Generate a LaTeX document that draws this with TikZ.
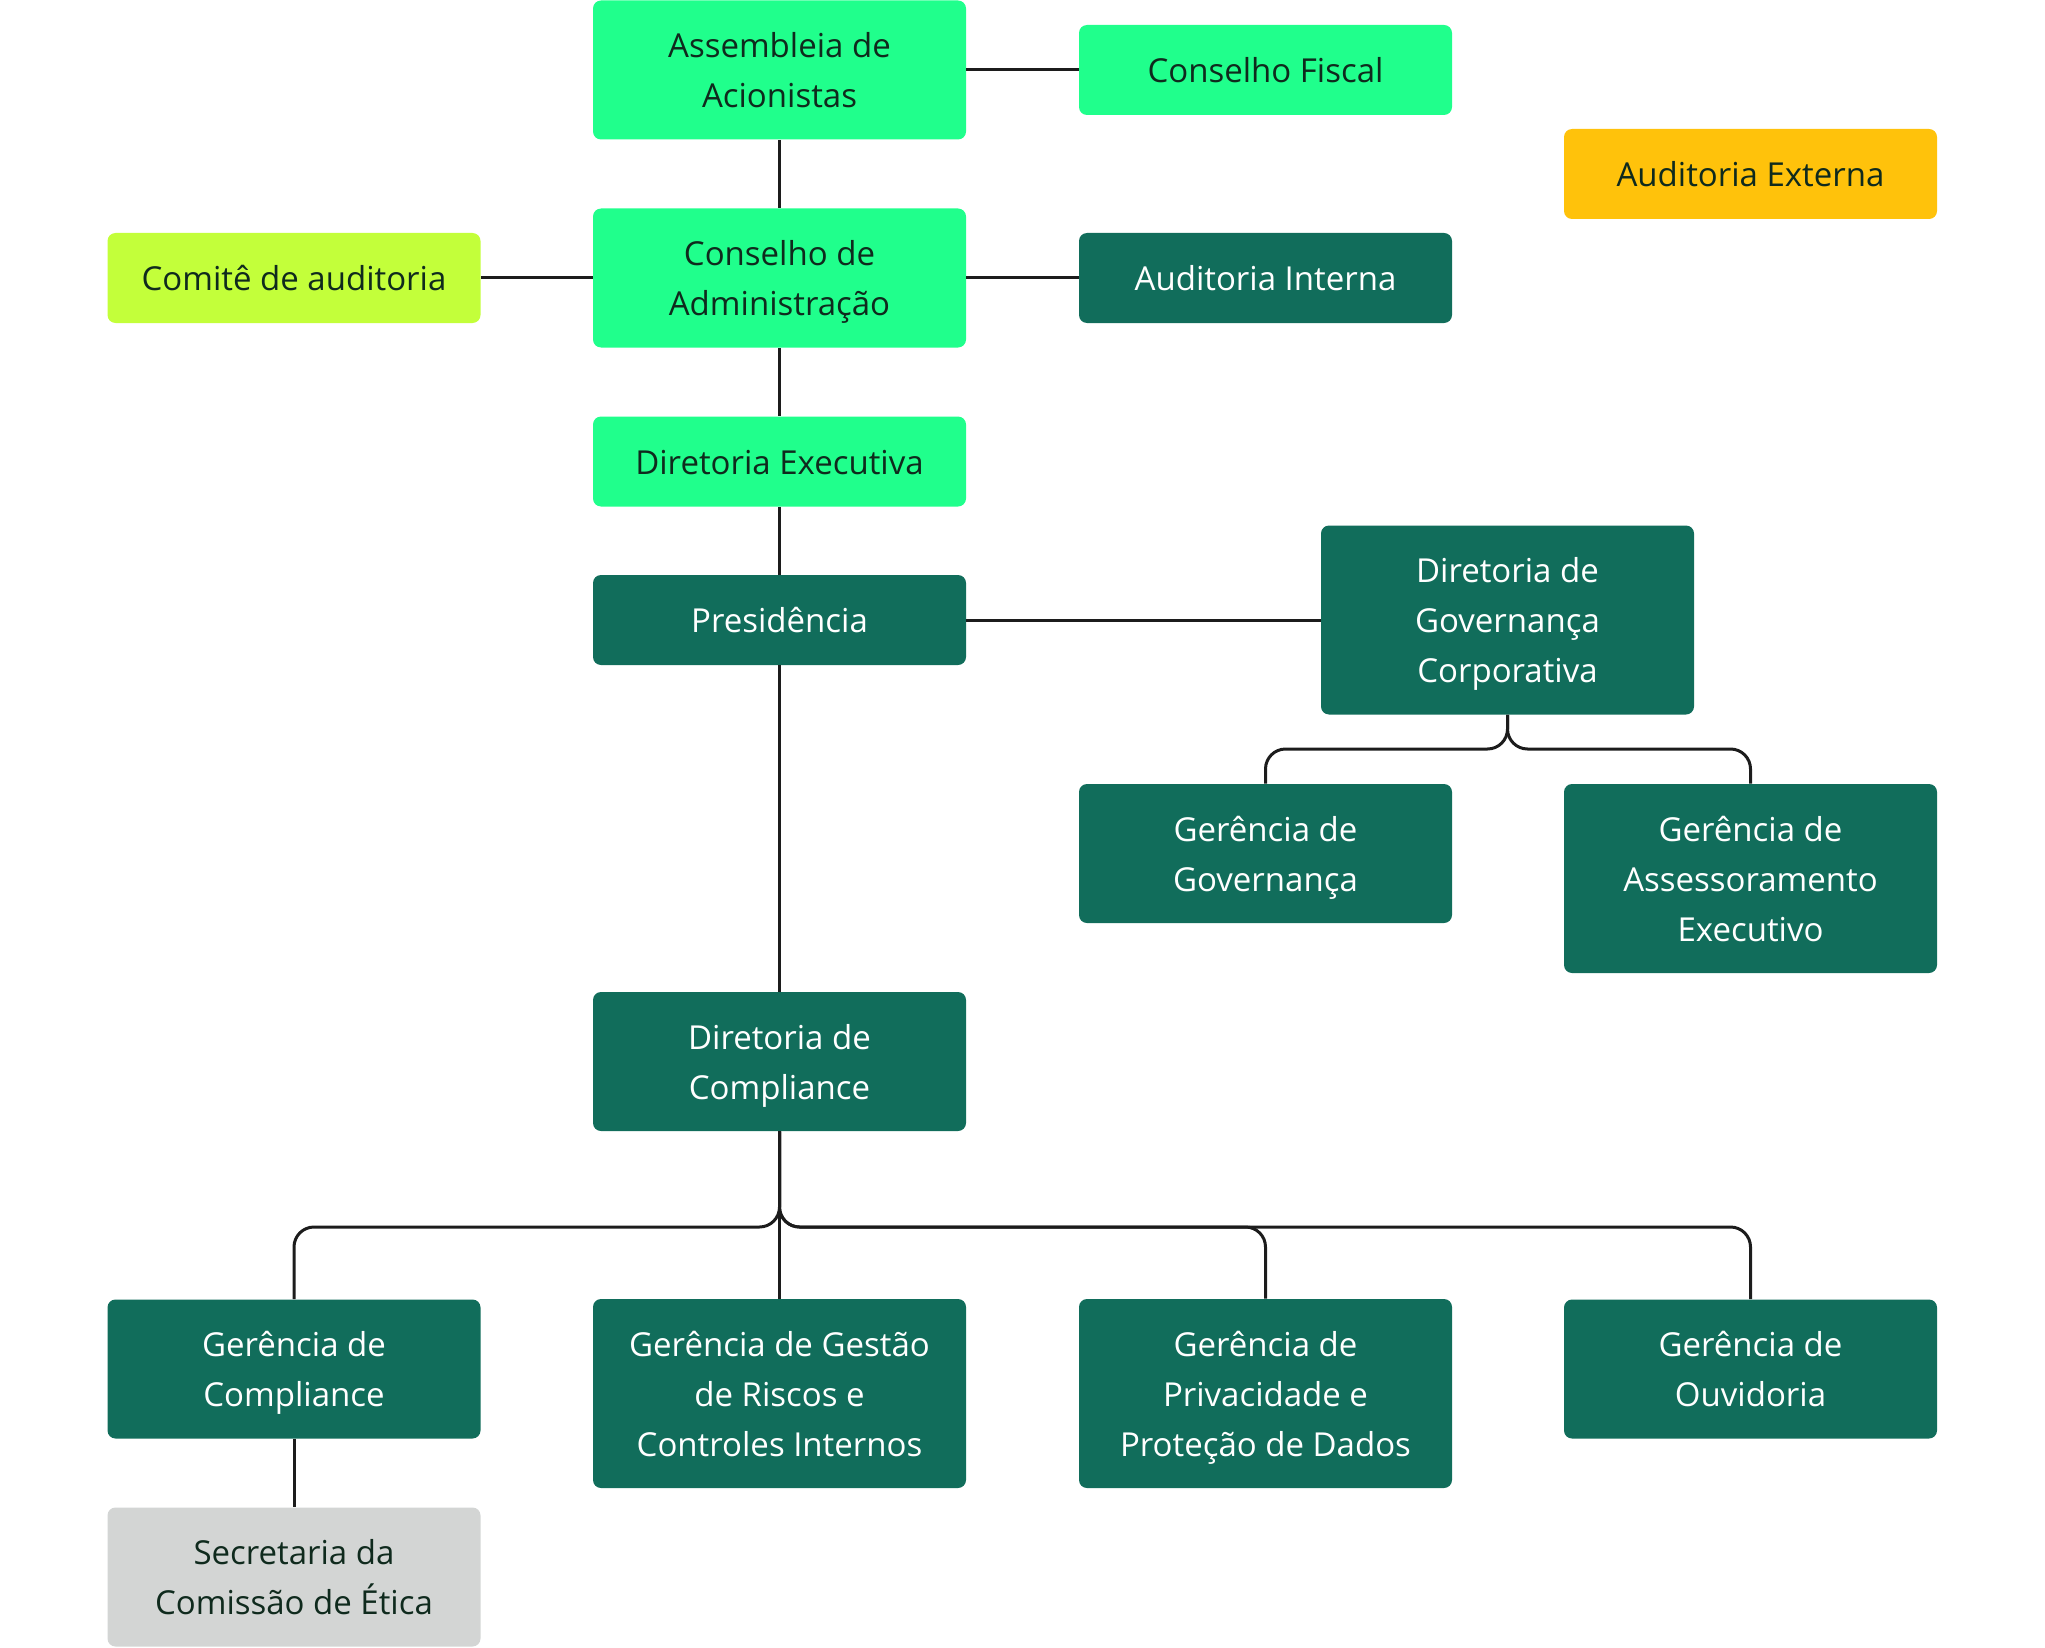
\documentclass[tikz,border=0pt]{standalone}
\usepackage{fontspec}
\setmainfont{Open Sans}
\definecolor{bgreen}{HTML}{20FF8C}
\definecolor{dgreen}{HTML}{116D5B}
\definecolor{lime}{HTML}{C3FF3A}
\definecolor{amber}{HTML}{FFC20B}
\definecolor{lgrey}{HTML}{D3D5D4}
\definecolor{dtext}{HTML}{0F2A1D}
\definecolor{linec}{HTML}{1C1C1C}
\newcommand\ts{\rule{0pt}{18.9pt}}
\newcommand\mybotstrut{\rule[-6.1pt]{0pt}{6.1pt}}
\tikzset{
  box/.style={rounded corners=4pt, minimum width=186.5pt, align=center, inner sep=0pt,
    font=\fontsize{16.5pt}{25pt}\selectfont,
    execute at end node=\mybotstrut},
  hone/.style={minimum height=45pt},
  htwo/.style={minimum height=69.5pt},
  hthree/.style={minimum height=94.5pt},
  light/.style={box, fill=bgreen, text=dtext},
  dark/.style={box, fill=dgreen, text=white},
  limebox/.style={box, fill=lime, text=dtext},
  amberbox/.style={box, fill=amber, text=dtext},
  greybox/.style={box, fill=lgrey, text=dtext},
  conn/.style={draw=linec, line width=1.5pt},
  branch/.style={conn, rounded corners=10pt}
}
\begin{document}
\begin{tikzpicture}[x=0.5pt, y=-0.5pt]
\useasboundingbox (0,0) rectangle (2045,1648);
\node[light, htwo] (ass) at (779.5,70) {\ts Assembleia de\\Acionistas};
\node[light, hone] (fis) at (1265.5,70) {\ts Conselho Fiscal};
\node[amberbox, hone] (ext) at (1750.5,174) {\ts Auditoria Externa};
\node[limebox, hone] (com) at (294,278) {\ts Comitê de auditoria};
\node[light, htwo] (cad) at (779.5,278) {\ts Conselho de\\Administração};
\node[dark, hone] (ain) at (1265.5,278) {\ts Auditoria Interna};
\node[light, hone] (dex) at (779.5,461.5) {\ts Diretoria Executiva};
\node[dark, hone] (pre) at (779.5,620) {\ts Presidência};
\node[dark, hthree] (dgc) at (1507.5,620) {\ts Diretoria de\\Governança\\Corporativa};
\node[dark, htwo] (ggo) at (1265.5,853.5) {\ts Gerência de\\Governança};
\node[dark, hthree] (gae) at (1750.5,878.5) {\ts Gerência de\\Assessoramento\\Executivo};
\node[dark, htwo] (dco) at (779.5,1061.5) {\ts Diretoria de\\Compliance};
\node[dark, htwo] (gco) at (294,1369) {\ts Gerência de\\Compliance};
\node[dark, hthree] (grc) at (779.5,1393.5) {\ts Gerência de Gestão\\de Riscos e\\Controles Internos};
\node[dark, hthree] (gpd) at (1265.5,1393.5) {\ts Gerência de\\Privacidade e\\Proteção de Dados};
\node[dark, htwo] (gou) at (1750.5,1369) {\ts Gerência de\\Ouvidoria};
\node[greybox, htwo] (sec) at (294,1577) {\ts Secretaria da\\Comissão de Ética};

\draw[conn] (ass.east) -- (fis.west);
\draw[conn] (ass.south) -- (cad.north);
\draw[conn] (com.east) -- (cad.west);
\draw[conn] (cad.east) -- (ain.west);
\draw[conn] (cad.south) -- (dex.north);
\draw[conn] (dex.south) -- (pre.north);
\draw[conn] (pre.east) -- (dgc.west);
\draw[conn] (pre.south) -- (dco.north);
\draw[conn] (gco.south) -- (sec.north);

\draw[branch] (dgc.south) -- (dgc.south |- 0,749) -- (ggo.north |- 0,749) -- (ggo.north);
\draw[branch] (dgc.south) -- (dgc.south |- 0,749) -- (gae.north |- 0,749) -- (gae.north);

\draw[conn] (dco.south) -- (grc.north);
\draw[branch] (dco.south) -- (dco.south |- 0,1227) -- (gco.north |- 0,1227) -- (gco.north);
\draw[branch] (dco.south) -- (dco.south |- 0,1227) -- (gpd.north |- 0,1227) -- (gpd.north);
\draw[branch] (dco.south) -- (dco.south |- 0,1227) -- (gou.north |- 0,1227) -- (gou.north);
\end{tikzpicture}
\end{document}
